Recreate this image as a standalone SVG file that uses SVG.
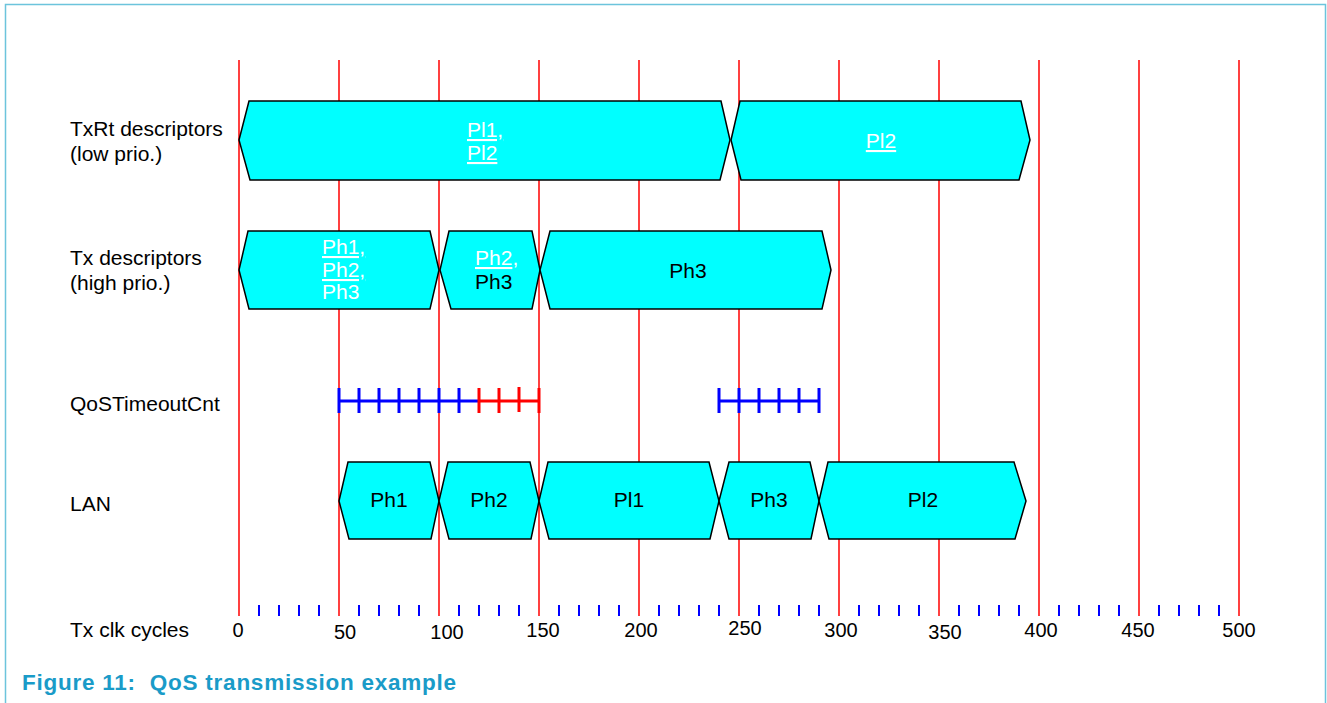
<svg xmlns="http://www.w3.org/2000/svg" width="1327" height="703" viewBox="0 0 1327 703">
<style>
.lbl{font-family:"Liberation Sans",Arial,sans-serif;font-size:21px;fill:#000}
.num{font-family:"Liberation Sans",Arial,sans-serif;font-size:20px;fill:#000;text-anchor:middle}
.hex{fill:#00ffff;stroke:#000;stroke-width:1.5;stroke-linejoin:miter}
.t{font-family:"Liberation Sans",Arial,sans-serif;font-size:21px;fill:#000}
.w{fill:#fff}
.u{text-decoration:underline}
.c{text-anchor:middle}
.grid line{stroke:#ff0000;stroke-width:1.5}
.tick line{stroke:#0000ff;stroke-width:2}
.qb{stroke:#0000ff;stroke-width:3;fill:none}
.qr{stroke:#ff0000;stroke-width:3;fill:none}
.cap{font-family:"Liberation Sans",Arial,sans-serif;font-size:22.5px;font-weight:bold;fill:#1a9bc8}
</style>
<rect width="1327" height="703" fill="#fff"/>
<path d="M5.5,703 V4.5 H1325.5 V703" fill="none" stroke="#6cc4dc" stroke-width="1.5"/>

<g id="grid" class="grid">
<line x1="239" y1="60" x2="239" y2="616"/>
<line x1="339" y1="60" x2="339" y2="616"/>
<line x1="439" y1="60" x2="439" y2="616"/>
<line x1="539" y1="60" x2="539" y2="616"/>
<line x1="639" y1="60" x2="639" y2="616"/>
<line x1="739" y1="60" x2="739" y2="616"/>
<line x1="839" y1="60" x2="839" y2="616"/>
<line x1="939" y1="60" x2="939" y2="616"/>
<line x1="1039" y1="60" x2="1039" y2="616"/>
<line x1="1139" y1="60" x2="1139" y2="616"/>
<line x1="1239" y1="60" x2="1239" y2="616"/>
</g>

<g id="axis-ticks" class="tick">
<line x1="259" y1="605" x2="259" y2="616"/><line x1="279" y1="605" x2="279" y2="616"/><line x1="299" y1="605" x2="299" y2="616"/><line x1="319" y1="605" x2="319" y2="616"/>
<line x1="359" y1="605" x2="359" y2="616"/><line x1="379" y1="605" x2="379" y2="616"/><line x1="399" y1="605" x2="399" y2="616"/><line x1="419" y1="605" x2="419" y2="616"/>
<line x1="459" y1="605" x2="459" y2="616"/><line x1="479" y1="605" x2="479" y2="616"/><line x1="499" y1="605" x2="499" y2="616"/><line x1="519" y1="605" x2="519" y2="616"/>
<line x1="559" y1="605" x2="559" y2="616"/><line x1="579" y1="605" x2="579" y2="616"/><line x1="599" y1="605" x2="599" y2="616"/><line x1="619" y1="605" x2="619" y2="616"/>
<line x1="659" y1="605" x2="659" y2="616"/><line x1="679" y1="605" x2="679" y2="616"/><line x1="699" y1="605" x2="699" y2="616"/><line x1="719" y1="605" x2="719" y2="616"/>
<line x1="759" y1="605" x2="759" y2="616"/><line x1="779" y1="605" x2="779" y2="616"/><line x1="799" y1="605" x2="799" y2="616"/><line x1="819" y1="605" x2="819" y2="616"/>
<line x1="859" y1="605" x2="859" y2="616"/><line x1="879" y1="605" x2="879" y2="616"/><line x1="899" y1="605" x2="899" y2="616"/><line x1="919" y1="605" x2="919" y2="616"/>
<line x1="959" y1="605" x2="959" y2="616"/><line x1="979" y1="605" x2="979" y2="616"/><line x1="999" y1="605" x2="999" y2="616"/><line x1="1019" y1="605" x2="1019" y2="616"/>
<line x1="1059" y1="605" x2="1059" y2="616"/><line x1="1079" y1="605" x2="1079" y2="616"/><line x1="1099" y1="605" x2="1099" y2="616"/><line x1="1119" y1="605" x2="1119" y2="616"/>
<line x1="1159" y1="605" x2="1159" y2="616"/><line x1="1179" y1="605" x2="1179" y2="616"/><line x1="1199" y1="605" x2="1199" y2="616"/><line x1="1219" y1="605" x2="1219" y2="616"/>
</g>

<g id="axis-labels">
<text class="num" x="238" y="637">0</text>
<text class="num" x="345" y="639">50</text>
<text class="num" x="447" y="639">100</text>
<text class="num" x="543" y="637">150</text>
<text class="num" x="641" y="637">200</text>
<text class="num" x="745" y="635">250</text>
<text class="num" x="841" y="637">300</text>
<text class="num" x="945" y="639">350</text>
<text class="num" x="1041" y="637">400</text>
<text class="num" x="1138" y="637">450</text>
<text class="num" x="1239" y="637">500</text>
</g>

<g id="row-labels">
<text class="lbl" x="70" y="136">TxRt descriptors</text>
<text class="lbl" x="70" y="161">(low prio.)</text>
<text class="lbl" x="70" y="265">Tx descriptors</text>
<text class="lbl" x="70" y="290">(high prio.)</text>
<text class="lbl" x="70" y="411">QoSTimeoutCnt</text>
<text class="lbl" x="70" y="511">LAN</text>
<text class="lbl" x="70" y="637">Tx clk cycles</text>
</g>

<g id="txrt-pl1-pl2">
<polygon class="hex" points="239,140 249,101 721,101 730,140 720,180 250,180"/>
<text class="t w u" x="467" y="137">Pl1,</text>
<text class="t w u" x="467" y="160">Pl2</text>
</g>
<g id="txrt-pl2">
<polygon class="hex" points="731,140 740,101 1021,101 1030,140 1019,180 741,180"/>
<text class="t w u c" x="881" y="148">Pl2</text>
</g>

<g id="tx-ph1-ph2-ph3">
<polygon class="hex" points="239,270 248,231 430,231 439,270 430,309 249,309"/>
<text class="t w u" x="322" y="254">Ph1,</text>
<text class="t w u" x="322" y="277">Ph2,</text>
<text class="t w" x="322" y="299">Ph3</text>
</g>
<g id="tx-ph2-ph3">
<polygon class="hex" points="440,270 449,231 532,231 540,270 532,309 451,309"/>
<text class="t w" x="475" y="265"><tspan class="u">Ph2</tspan>,</text>
<text class="t" x="475" y="289">Ph3</text>
</g>
<g id="tx-ph3">
<polygon class="hex" points="540,270 550,231 822,231 831,270 822,309 550,309"/>
<text class="t c" x="688" y="278">Ph3</text>
</g>

<g id="qos-timeout">
<path class="qb" d="M339,401 H479 M339,388 V413 M359,388 V413 M379,388 V413 M399,388 V413 M419,388 V413 M439,388 V413 M459,388 V413"/>
<path class="qr" d="M479,401 H539 M479,388 V413 M499,388 V413 M519,387 V412 M539,388 V413"/>
<path class="qb" d="M719,401 H819 M719,388 V413 M739,388 V413 M759,388 V413 M779,388 V413 M799,388 V413 M819,388 V413"/>
</g>

<g id="lan-ph1">
<polygon class="hex" points="339,501 348,462 430,462 439,501 431,539 349,539"/>
<text class="t c" x="389" y="507">Ph1</text>
</g>
<g id="lan-ph2">
<polygon class="hex" points="439,501 448,462 530,462 539,501 531,539 449,539"/>
<text class="t c" x="489" y="507">Ph2</text>
</g>
<g id="lan-pl1">
<polygon class="hex" points="539,501 548,462 709,462 719,501 710,539 549,539"/>
<text class="t c" x="629" y="507">Pl1</text>
</g>
<g id="lan-ph3">
<polygon class="hex" points="719,501 729,462 810,462 819,501 811,539 729,539"/>
<text class="t c" x="769" y="507">Ph3</text>
</g>
<g id="lan-pl2">
<polygon class="hex" points="819,501 828,462 1014,462 1026,501 1015,539 829,539"/>
<text class="t c" x="923" y="507">Pl2</text>
</g>

<g id="connectors"></g>

<text class="cap" x="22" y="690" xml:space="preserve" textLength="434" lengthAdjust="spacing">Figure 11:  QoS transmission example</text>
</svg>
